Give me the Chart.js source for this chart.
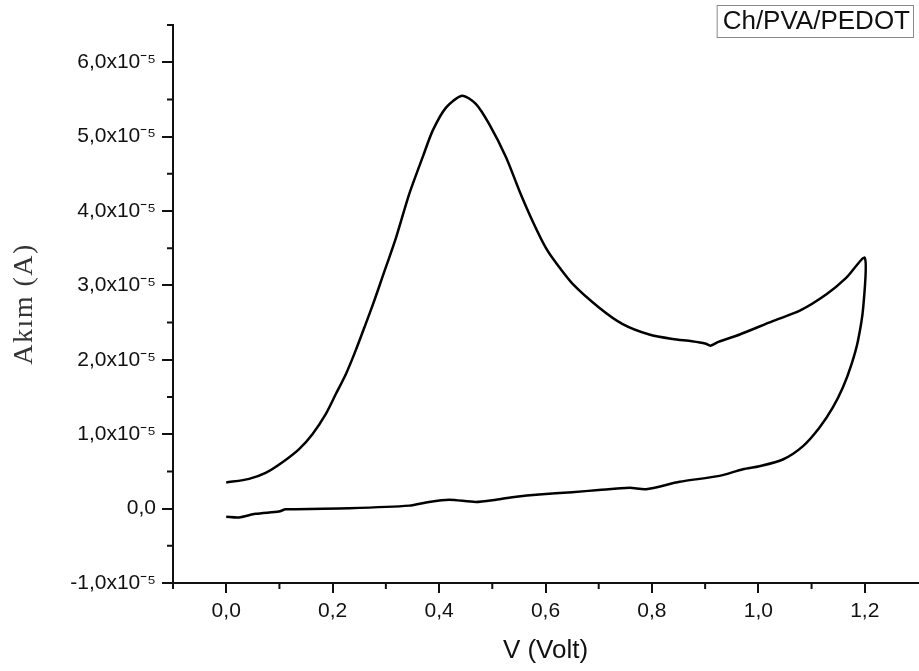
<!DOCTYPE html>
<html>
<head>
<meta charset="utf-8">
<script src="https://cdn.jsdelivr.net/npm/chart.js@4/dist/chart.umd.min.js"></script>
<style>
  html, body { margin: 0; padding: 0; background: #fff; }
  #cv { display: block; }
</style>
</head>
<body>
<canvas id="cv" width="919" height="671"></canvas>
<script>
// Cyclic voltammogram of the Ch/PVA/PEDOT film: forward scan 0 -> 1.2 V, then back to 0 V.
const seriesLabel = 'Ch/PVA/PEDOT';

// Forward (anodic) scan
const forwardVolt = [0.000, 0.043, 0.074, 0.105, 0.137, 0.162, 0.187, 0.206, 0.225, 0.243,
                     0.262, 0.278, 0.293, 0.319, 0.344, 0.369, 0.388, 0.413, 0.443, 0.469,
                     0.494, 0.526, 0.551, 0.576, 0.601, 0.620, 0.651, 0.701, 0.745, 0.795,
                     0.839, 0.875, 0.900, 0.910, 0.925, 0.965, 1.027, 1.078, 1.128, 1.165, 1.200];
const forwardAmp  = [0.35e-5, 0.40e-5, 0.48e-5, 0.62e-5, 0.80e-5, 1.00e-5, 1.27e-5, 1.54e-5, 1.81e-5, 2.12e-5,
                     2.48e-5, 2.79e-5, 3.10e-5, 3.64e-5, 4.23e-5, 4.72e-5, 5.08e-5, 5.39e-5, 5.55e-5, 5.44e-5,
                     5.17e-5, 4.72e-5, 4.27e-5, 3.86e-5, 3.50e-5, 3.30e-5, 3.02e-5, 2.70e-5, 2.48e-5, 2.34e-5,
                     2.28e-5, 2.25e-5, 2.22e-5, 2.19e-5, 2.24e-5, 2.34e-5, 2.52e-5, 2.66e-5, 2.88e-5, 3.10e-5, 3.37e-5];

// Reverse (cathodic) scan
const reverseVolt = [1.197, 1.187, 1.175, 1.159, 1.140, 1.115, 1.084, 1.046, 1.002, 0.971,
                     0.927, 0.852, 0.789, 0.758, 0.700, 0.650, 0.588, 0.545, 0.507, 0.469,
                     0.419, 0.381, 0.344, 0.231, 0.112, 0.099, 0.055, 0.024, 0.000];
const reverseAmp  = [2.70e-5, 2.25e-5, 1.94e-5, 1.63e-5, 1.36e-5, 1.09e-5, 0.84e-5, 0.66e-5, 0.57e-5, 0.53e-5,
                     0.44e-5, 0.36e-5, 0.26e-5, 0.28e-5, 0.25e-5, 0.22e-5, 0.19e-5, 0.16e-5, 0.12e-5, 0.09e-5,
                     0.12e-5, 0.09e-5, 0.04e-5, 0.005e-5, -0.01e-5, -0.04e-5, -0.07e-5, -0.12e-5, -0.11e-5];

// Axis ticks
const xMajorTicks = [0.0, 0.2, 0.4, 0.6, 0.8, 1.0, 1.2];
const xTickLabels = ['0,0', '0,2', '0,4', '0,6', '0,8', '1,0', '1,2'];
const xMinorTicks = [-0.1, 0.1, 0.3, 0.5, 0.7, 0.9, 1.1];
const yMajorTicks = [-1e-5, 0, 1e-5, 2e-5, 3e-5, 4e-5, 5e-5, 6e-5];
const yTickLabels = ['-1,0x10\u207B\u2075', '0,0', '1,0x10\u207B\u2075', '2,0x10\u207B\u2075', '3,0x10\u207B\u2075',
                     '4,0x10\u207B\u2075', '5,0x10\u207B\u2075', '6,0x10\u207B\u2075'];
const yMinorTicks = [-0.5e-5, 0.5e-5, 1.5e-5, 2.5e-5, 3.5e-5, 4.5e-5, 5.5e-5, 6.5e-5];

const xTitle = 'V (Volt)';
const yTitle = 'Ak\u0131m (A)';

// Closed loop: forward points then reverse points
const loopPoints = forwardVolt.map((v, i) => ({ x: v, y: forwardAmp[i] }))
  .concat(reverseVolt.map((v, i) => ({ x: v, y: reverseAmp[i] })));

function labelFor(values, labels, v) {
  const i = values.findIndex(t => Math.abs(t - v) < 1e-9);
  return i >= 0 ? labels[i] : '';
}

// Short unlabeled ticks between the labeled ones
const minorTicks = {
  id: 'minorTicks',
  afterDraw(chart) {
    const { ctx, scales: { x, y } } = chart;
    ctx.save();
    ctx.strokeStyle = '#111';
    ctx.lineWidth = 2;
    ctx.beginPath();
    xMinorTicks.forEach(v => {
      const p = x.getPixelForValue(v);
      ctx.moveTo(p, x.top);
      ctx.lineTo(p, x.top + 6);
    });
    yMinorTicks.forEach(v => {
      const p = y.getPixelForValue(v);
      ctx.moveTo(y.right, p);
      ctx.lineTo(y.right - 6, p);
    });
    ctx.stroke();
    ctx.restore();
  }
};

// Spread the letters of the vertical axis title a little
const spacedYTitle = {
  id: 'spacedYTitle',
  beforeDraw(chart) {
    const y = chart.scales.y;
    if (!y || y._spacedTitle) return;
    const original = y.drawTitle;
    y.drawTitle = function () {
      const ctx = this.ctx;
      ctx.save();
      if ('letterSpacing' in ctx) ctx.letterSpacing = '1.5px';
      original.call(this);
      ctx.restore();
    };
    y._spacedTitle = true;
  }
};

// Boxed series name in the top-right corner
const seriesBox = {
  id: 'seriesBox',
  afterDraw(chart) {
    const { ctx } = chart;
    const text = chart.data.datasets[0].label;
    ctx.save();
    ctx.font = '26px "Liberation Sans", Arial, sans-serif';
    const w = ctx.measureText(text).width;
    const right = chart.width - 6, top = 5, h = 32;
    const left = right - w - 9;
    ctx.fillStyle = '#fff';
    ctx.fillRect(left, top, right - left, h);
    ctx.strokeStyle = '#8a8a8a';
    ctx.lineWidth = 1;
    ctx.strokeRect(left + 0.5, top + 0.5, right - left, h);
    ctx.fillStyle = '#111';
    ctx.textBaseline = 'middle';
    ctx.textAlign = 'left';
    ctx.fillText(text, left + 6, top + h / 2 + 1);
    ctx.restore();
  }
};

new Chart(document.getElementById('cv'), {
  type: 'scatter',
  data: {
    datasets: [{
      label: seriesLabel,
      data: loopPoints,
      showLine: true,
      borderColor: '#000',
      borderWidth: 2.5,
      pointRadius: 0,
      tension: 0.25,
      fill: false
    }]
  },
  options: {
    responsive: false,
    animation: false,
    devicePixelRatio: 1,
    layout: { padding: { top: 25, right: 1, left: 0, bottom: 0 } },
    plugins: {
      legend: { display: false },
      tooltip: { enabled: false }
    },
    scales: {
      x: {
        type: 'linear',
        min: -0.1,
        max: 1.3,
        afterBuildTicks: s => { s.ticks = xMajorTicks.map(v => ({ value: v })); },
        afterFit: s => { s.height = 88; },
        border: { display: true, color: '#111', width: 2 },
        grid: { drawOnChartArea: false, drawTicks: true, tickLength: 10, color: '#111', lineWidth: 2 },
        ticks: {
          color: '#111',
          padding: 6,
          maxRotation: 0,
          autoSkip: false,
          font: { family: '"Liberation Sans", Arial, sans-serif', size: 21 },
          callback: v => labelFor(xMajorTicks, xTickLabels, v)
        },
        title: {
          display: true,
          text: xTitle,
          color: '#111',
          font: { family: '"Liberation Sans", Arial, sans-serif', size: 26 },
          padding: { top: 0, bottom: 5 }
        }
      },
      y: {
        type: 'linear',
        min: -1e-5,
        max: 6.5e-5,
        afterBuildTicks: s => { s.ticks = yMajorTicks.map(v => ({ value: v })); },
        afterFit: s => { s.width = 173; },
        border: { display: true, color: '#111', width: 2 },
        grid: { drawOnChartArea: false, drawTicks: true, tickLength: 11, color: '#111', lineWidth: 2 },
        ticks: {
          color: '#111',
          padding: 6,
          autoSkip: false,
          font: { family: '"Liberation Sans", Arial, sans-serif', size: 21 },
          callback: v => labelFor(yMajorTicks, yTickLabels, v)
        },
        title: {
          display: true,
          text: yTitle,
          color: '#333',
          font: { family: '"Liberation Serif", "Times New Roman", serif', size: 28 },
          padding: { top: 8, bottom: 0 }
        }
      }
    }
  },
  plugins: [minorTicks, spacedYTitle, seriesBox]
});
</script>
</body>
</html>
